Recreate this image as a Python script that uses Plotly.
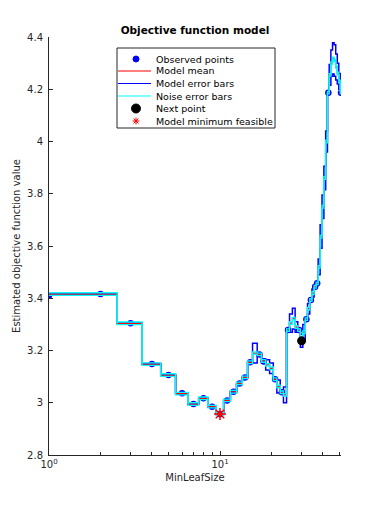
import numpy as np
import plotly.graph_objects as go

# ---------------- data ----------------
leaf_sizes = list(range(1, 52))
model_mean = [3.416, 3.416, 3.304, 3.148, 3.106, 3.035, 2.995, 3.017, 2.985, 2.957,
              3.009, 3.042, 3.074, 3.097, 3.155, 3.190, 3.185, 3.160, 3.145, 3.132,
              3.090, 3.062, 3.040, 3.030, 3.278, 3.305, 3.322, 3.290, 3.278, 3.237,
              3.270, 3.320, 3.360, 3.393, 3.420, 3.444, 3.457, 3.520, 3.636, 3.750,
              3.860, 4.000, 4.187, 4.255, 4.300, 4.318, 4.310, 4.285, 4.260, 4.230, 4.187]
model_sd = [0.002, 0.002, 0.002, 0.002, 0.002, 0.002, 0.002, 0.002, 0.002, 0.002,
            0.002, 0.002, 0.002, 0.002, 0.002, 0.038, 0.002, 0.008, 0.020, 0.020,
            0.002, 0.025, 0.002, 0.030, 0.002, 0.035, 0.040, 0.020, 0.002, 0.025,
            0.030, 0.002, 0.020, 0.002, 0.015, 0.002, 0.002, 0.030, 0.045, 0.045,
            0.045, 0.040, 0.002, 0.040, 0.050, 0.060, 0.060, 0.050, 0.040, 0.030, 0.002]
noise_sd = 0.005

obs_x = [1, 2, 3, 4, 5, 6, 7, 8, 9, 10, 11, 12, 13, 14, 15, 17, 18, 21, 23,
         25, 29, 32, 34, 36, 37, 43, 51]
obs_y = [3.411, 3.416, 3.304, 3.148, 3.106, 3.036, 2.995, 3.017, 2.985, 2.957,
         3.009, 3.042, 3.074, 3.097, 3.155, 3.185, 3.158, 3.090, 3.040,
         3.278, 3.278, 3.320, 3.393, 3.444, 3.457, 4.187, 4.187]

next_x = [30]
next_y = [3.237]
min_x = [10]
min_y = [2.957]

x_min, x_max = 1, 51
y_ticks = [2.8, 3.0, 3.2, 3.4, 3.6, 3.8, 4.0, 4.2, 4.4]
y_ticktext = ["2.8", "3", "3.2", "3.4", "3.6", "3.8", "4", "4.2", "4.4"]
x_ticks = [1, 10]
x_ticktext = ["10<sup>0</sup>", "10<sup>1</sup>"]
x_minor = [2, 3, 4, 5, 6, 7, 8, 9, 20, 30, 40, 50]

legend_labels = ["Observed points", "Model mean", "Model error bars",
                 "Noise error bars", "Next point", "Model minimum feasible"]

# ---------------- helpers ----------------
def stairs(ks, vals):
    xs, ys = [], []
    for k, v in zip(ks, vals):
        xs += [max(x_min, k - 0.5), min(x_max, k + 0.5)]
        ys += [v, v]
    return xs, ys

m = np.array(model_mean)
s = np.array(model_sd)

def band(lo, hi):
    x1, y1 = stairs(leaf_sizes, hi)
    x2, y2 = stairs(leaf_sizes, lo)
    return x1 + [None] + x2, list(y1) + [None] + list(y2)

fig = go.Figure()

fig.add_trace(go.Scatter(x=obs_x, y=obs_y, mode="markers",
                         marker=dict(color="#0000ff", size=6.5, symbol="circle"),
                         showlegend=False))
bx, by = band(m - s, m + s)
fig.add_trace(go.Scatter(x=bx, y=by, mode="lines", line=dict(color="#0000ff", width=1.5),
                         showlegend=False, connectgaps=False, hoverinfo="skip"))
mx, my = stairs(leaf_sizes, model_mean)
fig.add_trace(go.Scatter(x=mx, y=my, mode="lines", line=dict(color="#ff0000", width=1.3),
                         showlegend=False))
nx, ny = band(m - noise_sd, m + noise_sd)
fig.add_trace(go.Scatter(x=nx, y=ny, mode="lines", line=dict(color="#00ffff", width=1.3),
                         showlegend=False, connectgaps=False, hoverinfo="skip"))
fig.add_trace(go.Scatter(x=next_x, y=next_y, mode="markers",
                         marker=dict(color="black", size=9, symbol="circle"),
                         showlegend=False))
fig.add_trace(go.Scatter(x=min_x, y=min_y, mode="markers",
                         marker=dict(color="red", size=10, symbol="asterisk-open",
                                     line=dict(color="red", width=1.5)),
                         showlegend=False))

# ---------------- layout geometry (page pixels; page has 8px body margin) ----------------
OFF = 8
W, H = 377 - 2 * OFF, 512 - 2 * OFF
L, R, T, B = 49, 341, 37, 455  # plot area in page pixels
def px(x):
    return (x - L) / (R - L)
def py(y):
    return (B - y) / (B - T)

shapes = []
shapes.append(dict(type="rect", xref="paper", yref="paper", x0=px(117), x1=px(275),
                   y0=py(128), y1=py(48), line=dict(color="#262626", width=1),
                   fillcolor="white", layer="above"))
rows = [59, 71, 83.5, 96, 108.5, 121]
cx = 136
shapes.append(dict(type="circle", xref="paper", yref="paper", x0=px(cx - 3), x1=px(cx + 3),
                   y0=py(rows[0] + 3), y1=py(rows[0] - 3), fillcolor="#0000ff",
                   line=dict(color="#0000ff", width=1), layer="above"))
for r, c in zip(rows[1:4], ["#ff0000", "#0000ff", "#00ffff"]):
    shapes.append(dict(type="line", xref="paper", yref="paper", x0=px(118), x1=px(151),
                       y0=py(r), y1=py(r), line=dict(color=c, width=1.2), layer="above"))
shapes.append(dict(type="circle", xref="paper", yref="paper", x0=px(cx - 4.5), x1=px(cx + 4.5),
                   y0=py(rows[4] + 4.5), y1=py(rows[4] - 4.5), fillcolor="black",
                   line=dict(color="black", width=1), layer="above"))
r5 = rows[5]
a = 3.5
d = a * 0.707
for (dx, dy) in [(a, 0), (0, a), (d, d), (d, -d)]:
    shapes.append(dict(type="line", xref="paper", yref="paper", x0=px(cx - dx), x1=px(cx + dx),
                       y0=py(r5 - dy), y1=py(r5 + dy), line=dict(color="red", width=1),
                       layer="above"))

annotations = []
for r, t in zip(rows, legend_labels):
    annotations.append(dict(xref="paper", yref="paper", x=px(154), y=py(r), text=t,
                            showarrow=False, xanchor="left", yanchor="middle",
                            font=dict(family="DejaVu Sans", size=9.5, color="black")))

axis_color = "#262626"
fig.update_layout(
    width=W, height=H,
    margin=dict(l=L - OFF, r=W - (R - OFF), t=T - OFF, b=H - (B - OFF), autoexpand=False),
    paper_bgcolor="white", plot_bgcolor="white",
    font=dict(family="DejaVu Sans", size=10, color=axis_color),
    title=dict(text="<b>Objective function model</b>", x=0.5, xref="paper",
               y=1 - (30 - OFF) / H, yref="container", yanchor="middle", xanchor="center",
               font=dict(family="DejaVu Sans", size=10.5, color="black")),
    shapes=shapes, annotations=annotations,
    showlegend=False,
)
fig.update_xaxes(type="log", range=[np.log10(x_min), np.log10(x_max)],
                 tickmode="array", tickvals=x_ticks, ticktext=x_ticktext,
                 ticks="inside", ticklen=4, tickcolor=axis_color, tickwidth=1,
                 showline=True, linecolor=axis_color, linewidth=1, mirror=False,
                 showgrid=False, zeroline=False,
                 minor=dict(tickmode="array", tickvals=x_minor, ticks="inside",
                            ticklen=3, tickcolor=axis_color, showgrid=False),
                 tickfont=dict(size=10, color=axis_color),
                 title=dict(text="MinLeafSize", standoff=4,
                            font=dict(size=10, color=axis_color)))
fig.update_yaxes(range=[2.8, 4.4], tickmode="array", tickvals=y_ticks, ticktext=y_ticktext,
                 ticks="inside", ticklen=4, tickcolor=axis_color, tickwidth=1,
                 showline=True, linecolor=axis_color, linewidth=1, mirror=False,
                 showgrid=False, zeroline=False, ticklabelstandoff=3,
                 tickfont=dict(size=10, color=axis_color),
                 title=dict(text="Estimated objective function value", standoff=4,
                            font=dict(size=10, color=axis_color)))

fig.write_html("out.html")
